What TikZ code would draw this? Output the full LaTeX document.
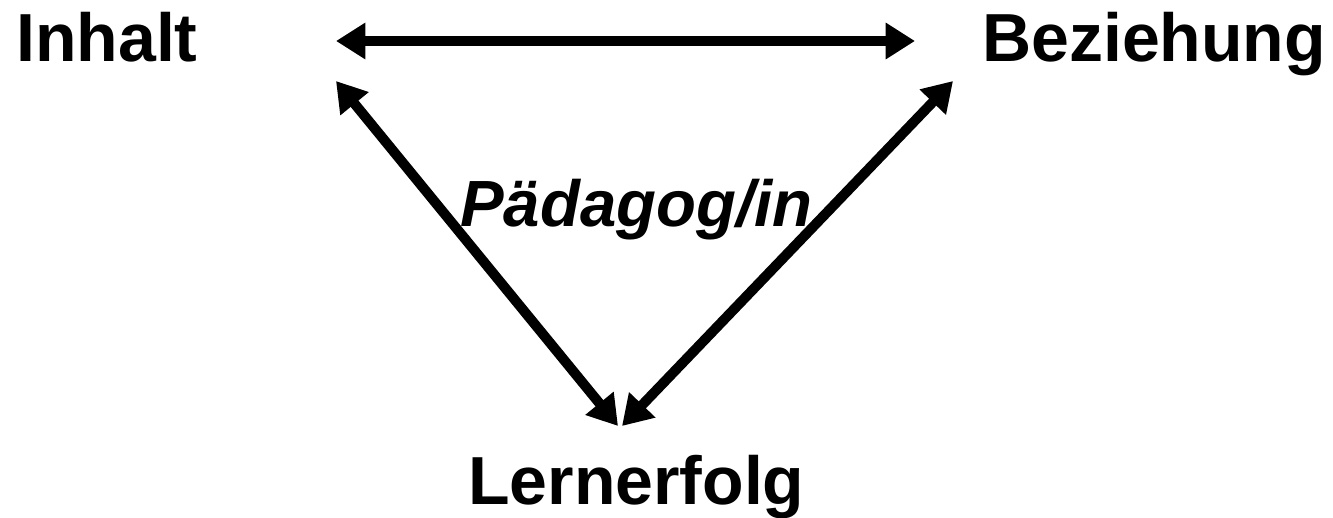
\documentclass[tikz,border=0pt]{standalone}
\usepackage{fontspec}
\setmainfont{Liberation Sans}
\usetikzlibrary{arrows.meta}

\begin{document}
\begin{tikzpicture}[
    x=0.75pt, y=-0.75pt,
    label/.style={font={\fontsize{51}{61}\selectfont\bfseries},inner sep=0pt,anchor=base west},
    link/.style={line width=7.5pt,{Triangle[length=22pt,width=26pt]}-{Triangle[length=22pt,width=26pt]}},
]
    \useasboundingbox (0,0) rectangle (1333,517);

    % Nodes
    \node[label] (inhalt)     at (16,62)   {Inhalt};
    \node[label] (beziehung)  at (982,62)  {Beziehung};
    \node[label] (lernerfolg) at (468,504) {Lernerfolg};
    \node[label,font={\fontsize{49}{59}\selectfont\bfseries\itshape}] (paed) at (460,226) {Pädagog/in};

    % Arrow ends
    \coordinate (inR)  at (336,41);
    \coordinate (bezL) at (915,41);
    \coordinate (inB)  at (336,81);
    \coordinate (bezB) at (953,81);
    \coordinate (lerL) at (618,426);
    \coordinate (lerR) at (622,426);

    % Arrows
    \draw[link] (inR) -- (bezL);
    \draw[link] (inB) -- (lerL);
    \draw[link] (bezB) -- (lerR);
\end{tikzpicture}
\end{document}
